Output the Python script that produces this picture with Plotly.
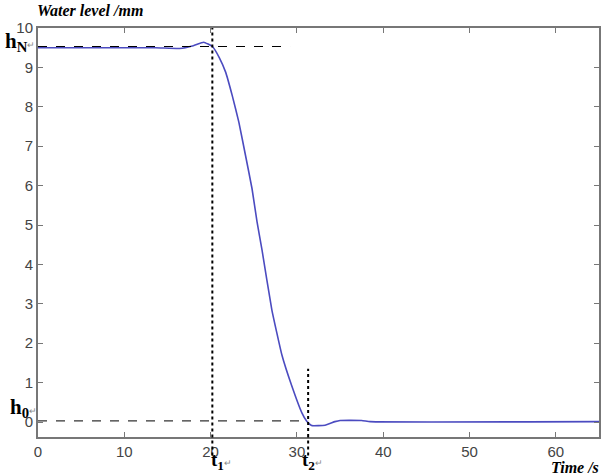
import plotly.graph_objects as go

# Data
time_s = [0, 13.6, 16.4, 18.0, 19.2, 20.2, 21.0, 21.74, 22.5, 23.27, 24.04, 24.8,
          25.38, 25.96, 27.1, 28.26, 29.4, 30.56, 31.14, 31.7, 33.26, 34.4, 35.0,
          37.5, 38.5, 65]
level_mm = [9.5, 9.5, 9.48, 9.55, 9.64, 9.53, 9.25, 8.88, 8.29, 7.61, 6.77, 5.92,
            5.08, 4.36, 2.84, 1.7, 0.92, 0.24, 0.02, -0.09, -0.08, 0.01, 0.04,
            0.04, 0.01, 0.01]

h_N = 9.53
h_0 = 0.03
t_1 = 20.2
t_2 = 31.3
hN_end = 29.2
h0_end = 31.3
t2_top = 1.35

x_ticks = [0, 10, 20, 30, 40, 50, 60]
y_ticks = [0, 1, 2, 3, 4, 5, 6, 7, 8, 9, 10]

fig = go.Figure()
fig.add_trace(go.Scatter(x=time_s, y=level_mm, mode="lines",
                         line=dict(color="#4b4bc0", width=1.6, shape="spline", smoothing=0.35),
                         showlegend=False, hoverinfo="skip"))

# reference dashed lines
fig.add_shape(type="line", xref="x", yref="y", x0=0, x1=hN_end, y0=h_N, y1=h_N,
              line=dict(color="black", width=1.2, dash="dash"))
fig.add_shape(type="line", xref="x", yref="y", x0=0, x1=h0_end, y0=h_0, y1=h_0,
              line=dict(color="#333", width=1.2, dash="dash"))
# dotted verticals extending below the axis
fig.add_shape(type="line", xref="x", yref="paper", x0=t_1, x1=t_1, y0=-0.045, y1=1.0,
              line=dict(color="black", width=2, dash="dot"))
fig.add_shape(type="line", xref="x", yref="y", x0=t_2, x1=t_2, y0=-0.38, y1=t2_top,
              line=dict(color="black", width=2, dash="dot"))
fig.add_shape(type="line", xref="x", yref="paper", x0=t_2, x1=t_2, y0=-0.045, y1=0.0,
              line=dict(color="black", width=2, dash="dot"))

serif = "Liberation Serif, Times New Roman, serif"
ann = [
    dict(text="<b><i>Water level /mm</i></b>", xref="paper", yref="paper",
         x=-0.005, y=1.042, xanchor="left", yanchor="middle",
         font=dict(family=serif, size=16, color="black")),
    dict(text="<b><i>Time /s</i></b>", xref="paper", yref="paper",
         x=1.003, y=-0.075, xanchor="right", yanchor="middle",
         font=dict(family=serif, size=16, color="black")),
    dict(text="<b>h<sub>N</sub></b><span style='font-size:9px;color:#888'>↵</span>",
         xref="paper", yref="paper", x=-0.062, y=0.965, xanchor="left", yanchor="middle",
         font=dict(family=serif, size=21, color="black")),
    dict(text="<b>h<sub>0</sub></b><span style='font-size:9px;color:#888'>↵</span>",
         xref="paper", yref="paper", x=-0.053, y=0.07, xanchor="left", yanchor="middle",
         font=dict(family=serif, size=21, color="black")),
    dict(text="<b>t<sub>1</sub></b><span style='font-size:9px;color:#888'>↵</span>",
         xref="x", yref="paper", x=t_1 - 0.4, y=-0.058, xanchor="left", yanchor="middle",
         font=dict(family=serif, size=19, color="black")),
    dict(text="<b>t<sub>2</sub></b><span style='font-size:9px;color:#888'>↵</span>",
         xref="x", yref="paper", x=t_2 - 0.9, y=-0.058, xanchor="left", yanchor="middle",
         font=dict(family=serif, size=19, color="black")),
]
fig.update_layout(annotations=[dict(showarrow=False, **a) for a in ann])

axis_common = dict(showgrid=False, zeroline=False, showline=True, linecolor="#777",
                   linewidth=2, mirror="ticks", ticks="inside", ticklen=5,
                   tickcolor="#777", tickwidth=1,
                   tickfont=dict(family="Liberation Sans, Arial, sans-serif", size=15, color="#444"))
fig.update_xaxes(range=[0, 65], tickvals=x_ticks, **axis_common)
fig.update_yaxes(range=[-0.38, 10], tickvals=y_ticks, **axis_common)

fig.update_layout(width=605, height=475, margin=dict(l=38, r=4, t=28, b=38),
                  paper_bgcolor="white", plot_bgcolor="white")
fig.write_html("out.html")
